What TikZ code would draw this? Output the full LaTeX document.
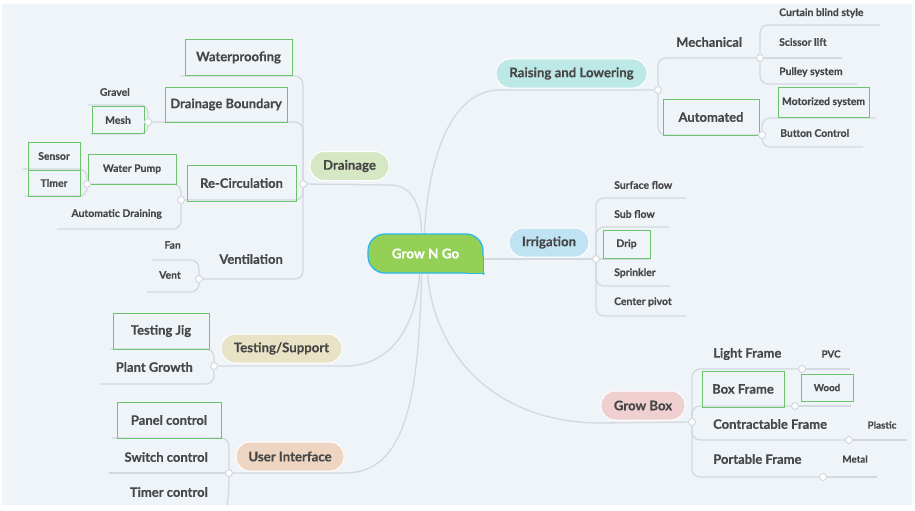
\documentclass[tikz,border=0pt]{standalone}
\usepackage{fontspec}
\setmainfont{Lato}[BoldFeatures={FakeBold=0.4}]
\usetikzlibrary{backgrounds}
\definecolor{bgC}{HTML}{EFF4F9}
\definecolor{lineC}{HTML}{D3D9DF}
\definecolor{txtC}{HTML}{474747}
\definecolor{boxC}{HTML}{6CC36C}
\definecolor{cGreen}{HTML}{94D055}
\definecolor{cBlue}{HTML}{2BB8EE}
\definecolor{drC}{HTML}{D6E8C3}
\definecolor{tsC}{HTML}{E9E3C5}
\definecolor{uiC}{HTML}{EDD5C2}
\definecolor{rlC}{HTML}{BCE8E6}
\definecolor{irC}{HTML}{C0E3F4}
\definecolor{gbC}{HTML}{EFCFCF}
\tikzset{
  link/.style={draw=lineC, line width=1.3pt},
  branch/.style={draw=lineC, line width=1.3pt, rounded corners=8pt},
  jct/.style={circle, fill=white, draw=lineC, line width=1pt, minimum size=7pt, inner sep=0pt},
  pill/.style={rounded corners=14pt, draw=white, line width=1pt, minimum height=29pt, inner sep=0pt, text=txtC, font=\bfseries\fontsize{13.2}{15}\selectfont},
  big/.style={text=txtC, inner sep=0pt, font=\bfseries\fontsize{13}{15}\selectfont},
  small/.style={text=txtC, inner sep=0pt, font=\bfseries\fontsize{10.4}{12}\selectfont},
  tiny/.style={text=txtC, inner sep=0pt, font=\bfseries\fontsize{9.8}{11}\selectfont},
  gbox/.style={draw=boxC, line width=1pt, inner sep=0pt},
  centre/.style={rounded corners=17pt, fill=cGreen, draw=cBlue, line width=1.3pt, minimum width=115pt, minimum height=39pt, text=white, font=\bfseries\fontsize{13.5}{15}\selectfont}
}
\begin{document}
\begin{tikzpicture}[x=1pt,y=-1pt]
\useasboundingbox (0,0) rectangle (915,511);
% central topic
\node[centre] (c) at (425.5,253.5) {Grow N Go};
\fill[cGreen] ([xshift=-18pt,yshift=18pt]c.south east) rectangle (c.south east);
\draw[cBlue, line width=1.3pt] ([yshift=18pt]c.south east) -- (c.south east) -- ([xshift=-18pt]c.south east);
\fill[cBlue] (c.south east) circle (1.3pt);

% main topics
\node[pill, fill=drC, minimum width=79pt] (dr) at (349.5,166) {Drainage};
\node[pill, fill=tsC, minimum width=121pt] (ts) at (281.5,348.5) {Testing/Support};
\node[pill, fill=uiC, minimum width=108pt] (ui) at (290,456.5) {User Interface};
\node[pill, fill=rlC, minimum width=151pt] (rl) at (571.5,73.5) {Raising and Lowering};
\node[pill, fill=irC, minimum width=80pt] (ir) at (549,242.5) {Irrigation};
\node[pill, fill=gbC, minimum width=84pt] (gb) at (643,405.5) {Grow Box};

% Drainage subtree
\node[gbox, big, minimum width=107pt, minimum height=35pt] (wpf) at (238.5,57.5) {Waterproofing};
\node[gbox, big, minimum width=122pt, minimum height=35pt] (db) at (226,104.5) {Drainage Boundary};
\node[gbox, big, minimum width=109pt, minimum height=36pt] (rc) at (241.5,183) {Re-Circulation};
\node[big, anchor=east] (ve) at (283,259) {Ventilation};
\node[small, anchor=east] (gr) at (130,92) {Gravel};
\node[gbox, small, minimum width=52pt, minimum height=27pt] (me) at (118,120) {Mesh};
\node[gbox, small, minimum width=88pt, minimum height=30pt] (wpu) at (132,169) {Water Pump};
\node[small, anchor=east] (ad) at (162,214) {Automatic Draining};
\node[gbox, small, minimum width=52pt, minimum height=28pt] (se) at (54,156) {Sensor};
\node[gbox, small, minimum width=52pt, minimum height=26pt] (ti) at (54,183) {Timer};
\node[small, anchor=east] (fa) at (181,245) {Fan};
\node[small, anchor=east] (vn) at (181,275) {Vent};

% Testing / UI subtree
\node[gbox, big, minimum width=96pt, minimum height=36pt] (tj) at (161,331) {Testing Jig};
\node[big, anchor=east] (pg) at (193,367) {Plant Growth};
\node[gbox, big, minimum width=104pt, minimum height=36pt] (pc) at (169,420) {Panel control};
\node[big, anchor=east] (sc) at (208,457) {Switch control};
\node[big, anchor=east] (tc) at (208,492) {Timer control};

% Raising and Lowering subtree
\node[big, anchor=west] (mc) at (676,42) {Mechanical};
\node[gbox, big, minimum width=96pt, minimum height=36pt] (au) at (711,117) {Automated};
\node[small, anchor=west] (cb) at (779,13) {Curtain blind style};
\node[small, anchor=west] (sl) at (779,42) {Scissor lift};
\node[small, anchor=west] (ps) at (779,72) {Pulley system};
\node[gbox, small, minimum width=91pt, minimum height=30pt] (ms) at (823.5,102) {Motorized system};
\node[small, anchor=west] (bc) at (780,133) {Button Control};

% Irrigation subtree
\node[small, anchor=west] (sf) at (614,185) {Surface flow};
\node[small, anchor=west] (sb) at (614,214) {Sub flow};
\node[gbox, small, minimum width=47pt, minimum height=28pt] (dp) at (626.5,244) {Drip};
\node[small, anchor=west] (sp) at (614,273) {Sprinkler};
\node[small, anchor=west] (cp) at (614,302) {Center pivot};

% Grow Box subtree
\node[big, anchor=west] (lf) at (713,354) {Light Frame};
\node[gbox, big, minimum width=82pt, minimum height=36pt] (bf) at (743,389) {Box Frame};
\node[big, anchor=west] (cf) at (713,424) {Contractable Frame};
\node[big, anchor=west] (pf) at (713,459) {Portable Frame};
\node[tiny] (pv) at (831,354) {PVC};
\node[gbox, tiny, minimum width=52pt, minimum height=27pt] (wo) at (827,387.5) {Wood};
\node[tiny] (pl) at (882,425) {Plastic};
\node[tiny] (mt) at (855,459) {Metal};

% junctions
\node[jct] (dj) at (303,184) {};
\node[jct] (dbj) at (148,122) {};
\node[jct] (recj) at (181,200) {};
\node[jct] (wpj) at (87,184) {};
\node[jct] (vj) at (199,279) {};
\node[jct] (tsj) at (214,366) {};
\node[jct] (uij) at (229,473) {};
\node[jct] (rlj) at (658,90) {};
\node[jct] (mechj) at (760,58) {};
\node[jct] (autj) at (762,135) {};
\node[jct] (irj) at (596,259) {};
\node[jct] (gbj) at (692,422) {};
\node[jct] (lfj) at (802,369) {};
\node[jct] (bfj) at (795,406) {};
\node[jct] (cfj) at (849,440) {};
\node[jct] (pfj) at (823,477) {};

\begin{scope}[on background layer]
\fill[white] (0,0) rectangle (915,511);
\fill[bgC] (2,4) rectangle (912,505);
% centre to main topics
\draw[link] ([xshift=-4pt]c.north) .. controls (421,205) and (412,185) .. (390,185) -- (dj);
\draw[link] ([xshift=-1pt]c.north) .. controls (428,160) and (450,90) .. (500,90) -- (rlj);
\draw[link] (c.east |- irj) -- (irj);
\draw[link] ([xshift=-6pt]c.south) .. controls (417,320) and (395,366) .. (345,366) -- (tsj);
\draw[link] ([xshift=-4pt]c.south) .. controls (419,400) and (405,473) .. (345,473) -- (uij);
\draw[link] ([xshift=2pt]c.south) .. controls (435,360) and (500,423) .. (601,423) -- (gbj);
% drainage branches
\draw[branch] (dj.center) |- (180,76);
\draw[branch] (dj.center) |- (dbj.center);
\draw[branch] (dj.center) |- (recj.center);
\draw[branch] (dj.center) |- (vj.center);
\draw[branch] (dbj.center) |- (88,105);
\draw[branch] (dbj.center) |- (90,134);
\draw[branch] (recj.center) |- (wpj.center);
\draw[branch] (recj.center) |- (57,229);
\draw[branch] (wpj.center) |- (23,169);
\draw[branch] (wpj.center) |- (25,196);
\draw[branch] (vj.center) |- (152,260);
\draw[branch] (vj.center) |- (147,292);
% testing / ui
\draw[branch] (tsj.center) |- (110,349);
\draw[branch] (tsj.center) |- (100,384);
\draw[branch] (uij.center) |- (112,438);
\draw[link] (uij.center) -- (109,473);
\draw[link] (uij.center) .. controls (229,490) and (228,500) .. (227,505);
% raising and lowering
\draw[branch] (rlj.center) |- (mechj.center);
\draw[branch] (rlj.center) |- (autj.center);
\draw[branch] (mechj.center) |- (880,25);
\draw[link] (mechj.center) -- (842,58);
\draw[branch] (mechj.center) |- (857,84);
\draw[branch] (autj.center) |- (876,118);
\draw[branch] (autj.center) |- (863,147);
% irrigation
\draw[branch] (irj.center) |- (686,198);
\draw[branch] (irj.center) |- (669,227);
\draw[link] (irj.center) -- (650,259);
\draw[branch] (irj.center) |- (670,286);
\draw[branch] (irj.center) |- (686,316);
% grow box
\draw[branch] (gbj.center) |- (lfj.center);
\draw[branch] (gbj.center) |- (bfj.center);
\draw[branch] (gbj.center) |- (cfj.center);
\draw[branch] (gbj.center) |- (pfj.center);
\draw[link] (lfj.center) -- (850,369);
\draw[link] (bfj.center) -- (851,406);
\draw[link] (cfj.center) -- (907,440);
\draw[link] (pfj.center) -- (877,477);
\end{scope}
\end{tikzpicture}
\end{document}
